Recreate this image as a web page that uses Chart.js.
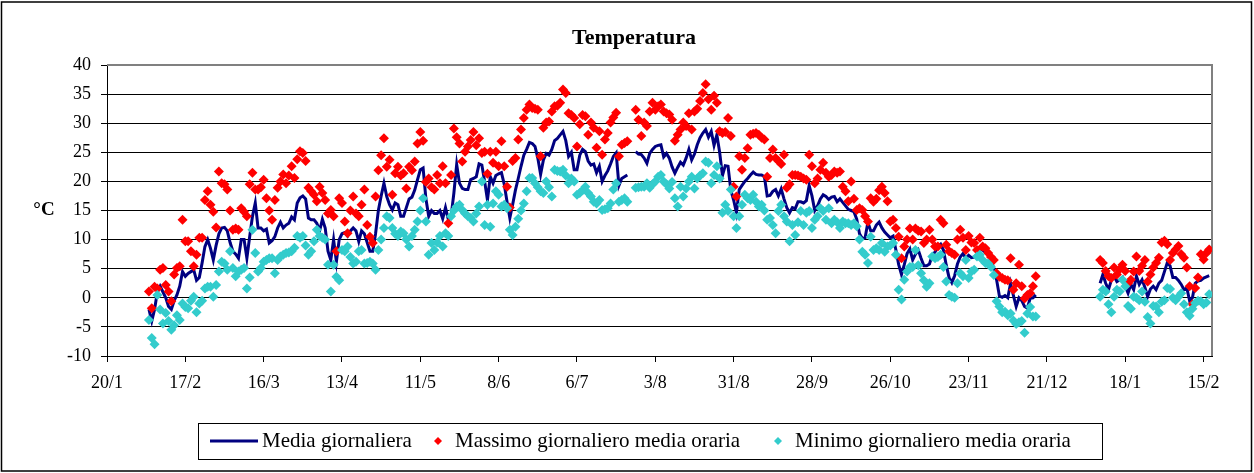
<!DOCTYPE html>
<html lang="it">
<head>
<meta charset="utf-8">
<title>Temperatura</title>
<script src="https://cdn.jsdelivr.net/npm/chart.js@4/dist/chart.umd.min.js"></script>
<style>
  body { margin: 0; background: #fff; }
  canvas { display: block; }
</style>
</head>
<body>
<canvas id="grafico" width="1254" height="473"></canvas>
<script>
// giorni contati dal 20/1; la prima misura è del giorno 15 (4/2)
const primoGiorno = 15;
const etichetteTick = ['20/1', '17/2', '16/3', '13/4', '11/5', '8/6', '6/7', '3/8', '31/8', '28/9', '26/10', '23/11', '21/12', '18/1', '15/2'];
const passoTick = 28;

const mediaGiornaliera = [
  -2, -4, -2, 1, 2, 1, 0, -1.5, -2, -0.5,
  0.5, 2, 4.5, 3.7, 4.2, 4.5, 4.8, 3, 3.5, 6,
  8.8, 10, 8.5, 6.5, 9, 11, 12, 12.1, 11.5, 9.5,
  8, 7.5, 6.8, 10, 10, 6.8, 10.5, 14, 16.3, 12,
  12, 11.5, 11.8, 9.4, 9.8, 10.5, 12, 13, 12, 12.5,
  12.8, 13.9, 13.4, 16.3, 17.2, 17.5, 17, 13.7, 13.4, 13.4,
  12.8, 11.5, 13.5, 12, 8, 6.5, 10, 6.2, 10, 11,
  11.2, 10.6, 11.5, 12, 11.5, 9.7, 11.5, 11, 9.5, 8,
  8, 11, 15, 17.5, 19.7, 17.4, 16, 15.1, 16.3, 16,
  14, 14, 15.5, 17, 17.3, 18.5, 20.3, 22, 22.3, 17,
  14, 15, 14.5, 14.5, 15, 13.6, 15.5, 13.5, 14, 18,
  22.9, 19.7, 18.8, 18.6, 18.6, 20.3, 20.5, 20.8, 23, 22.8,
  20, 16.8, 20.8, 19.7, 21, 21.3, 21.5, 19.5, 16.5, 13.7,
  16, 18.5, 20.5, 22.6, 24.5, 25.5, 26.7, 26.5, 26, 24,
  21.2, 23.7, 24.8, 24.5, 25.5, 27, 27.4, 28, 28.6, 27,
  24.3, 25, 22, 22, 24.5, 25.5, 25.1, 23.5, 22.8, 23,
  21.5, 22.6, 20, 21, 21.8, 23, 24.3, 24.9, 19.3, 20.5,
  20.8, 21.1, null, null, 25.1, 24.7, 24.6, 24, 23.1, 24.8,
  25.5, 26, 26.2, 26.3, 24.2, 24.8, 24, 22.5, 21.4, 22.4,
  23.3, 22.8, 24, 25.5, 23.7, 24.7, 26.3, 27.5, 28.3, 28.9,
  27.6, 28.6, 26.2, 28, 25, 21, 22.7, 22.6, 18.5, 16.8,
  14.6, 18.6, 19.3, 20, 20.5, 21.1, 21.6, 21.2, 21.1, 21.1,
  20.8, 17.5, 17.6, 18.3, 18.6, 17.5, 18.7, 17, 15.5, 14.6,
  15.5, 15.3, 16.5, 16.5, 16.3, 16.7, 19.3, 17.5, 15, 15.8,
  17, 17.7, 17.4, 16.9, 17.3, 17.4, 16.5, 17, 16.4, 15.8,
  15.2, 15, 14.8, 13.5, 11, 10.2, 10.3, 13, 11.5, 11.5,
  12.5, 13, 12, 11.3, 10.8, 10.3, 10.6, 8.2, 5.7, 4,
  5.7, 7.6, 8.4, 6.5, 7.5, 8.2, 6.8, 5.5, 5.5, 5.8,
  7.3, 7.9, 8.8, 9.2, 8.2, 5.6, 3.5, 2.6, 3.8, 5.8,
  7, 7.6, 6.8, 7.3, 6.9, 7, 7.4, 8.4, 8.2, 7.8,
  7.5, 6.5, 5, 3.1, 0.3, 0.1, 0.4, 0, 2.5, 0.4,
  -1.5, 0, -0.5, -1.5, -1.8, -0.1, 0, 0.5, null, null,
  null, null, null, null, null, null, null, null, null, null,
  null, null, null, null, null, null, null, null, null, null,
  2.5, 4, 2.5, 1.4, 3, 3.7, 2.8, 3.1, 3.5, 2,
  0.8, 2.3, 1.4, 3.7, 2.3, 3.1, 1.8, 0.2, 1.5, 2,
  1.4, 2.5, 3, 4.5, 6, 5.5, 3.5, 3.5, 3, 2.3,
  1.4, 1.7, -0.5, 0, 2.5, 2.9, 3, 3.4, 3.6, 3.8
];

const massimoGiornaliero = [
  1.1, -1.8, 1.9, 1.6, 4.8, 5.1, 2.2, 1.1, -0.6, 4,
  5.1, 5.4, 13.4, 9.7, 9.7, 8, 5.4, 7.4, 10.3, 10.3,
  16.8, 18.3, 16, 14.8, 12.1, 21.7, 19.7, 19.5, 18.6, 15,
  11.7, 11.9, 11.7, 15.4, 14.8, 14, 19.5, 21.5, 18.6, 18.6,
  19, 20.3, 17.1, 15, 13.4, 16.8, 18.9, 20, 21.2, 19.7,
  21, 22.6, 20.6, 23.8, 25.2, 24.9, 23.5, 18.9, 18.3, 17.7,
  16.6, 19.1, 18, 16.8, 14.5, 15.1, 14, 8, 17.1, 16.3,
  13.1, 11.1, 15, 17.4, 14.5, 14, 16, 18.6, 12.5, 10.5,
  9.4, 17.4, 21.9, 24.5, 27.4, 22.5, 23.7, 17.7, 21.4, 22.5,
  21, 21.4, 18.8, 22.5, 21.9, 23.4, 26.5, 28.5, 27, 19.9,
  20.5, 19, 18.6, 21.1, 19.7, 22.6, 19.7, 12.8, 21.1, 29.1,
  27.6, 26.5, 23.4, 25.1, 26, 27.1, 28.5, 26.2, 27.4, 24.9,
  25.1, 21.3, 25.1, 23.2, 25.1, 22.6, 26.9, 22.6, 19.1, 15.5,
  23.5, 24, 27.2, 28.9, 30.9, 32.3, 33.2, 32.6, 32.5, 32.3,
  24.3, 29.2, 30.1, 30.3, 32, 32.9, 33, 33.5, 35.8, 35.2,
  31.7, 31.4, 30.9, 26, 29.8, 31.4, 31.2, 28, 30.1, 29.2,
  25.8, 28.6, 24.6, 27.2, 28.3, 30.1, 31, 31.8, 24.3, 26.3,
  26.6, 26.9, null, null, 32.3, 30.6, 27.8, 30.1, 29.5, 32,
  33.5, 32.3, 32.9, 33.2, 32, 31.7, 31.5, 30.6, 27, 28,
  28.9, 30.1, 29.5, 31.7, 28.9, 32, 32.5, 33.8, 35.2, 36.7,
  34.1, 32.3, 34.7, 33.5, 28.6, 28.3, 28.5, 30.9, 27.8, 19.1,
  17.4, 24.3, 22, 24, 25.7, 28, 28.2, 28.3, 28, 27.5,
  27.2, 20.8, 24, 25.5, 24, 23.5, 23, 24.6, 18.9, 19.5,
  21.1, 21.1, 21, 20.8, 20.5, 20.3, 24.6, 22.6, 19.7, 20.5,
  22, 23.2, 21.5, 20.8, 21.1, 21.7, 21.5, 21.7, 19.1, 18.3,
  16.6, 20, 17, 15.1, 15.4, 15.1, 14, 13.1, 17.1, 16.5,
  17, 18.5, 19.1, 18, 16.6, 13.1, 13.4, 12, 10.5, 6.8,
  8.8, 10, 11.9, 10, 11.9, 11.5, 11.4, 9.4, 10, 11.7,
  10, 8.8, 8.8, 13.4, 12.8, 9.1, 8, 7.7, 7.4, 10,
  11.7, 10.3, 8.2, 10.6, 9.5, 9.4, 8.2, 10.3, 8.8, 8.5,
  7.7, 7, 6.5, 4.2, 3.6, 3.4, 3.1, 3, 6.8, 1.4,
  2.5, 5.7, 2, -0.1, 0.5, 0.8, 2, 3.7, null, null,
  null, null, null, null, null, null, null, null, null, null,
  null, null, null, null, null, null, null, null, null, null,
  6.5, 6, 4.6, 3.7, 3.4, 5.2, 4, 4.9, 5.7, 4.6,
  2.5, 3.1, 4.5, 7.1, 4.6, 5.5, 6.5, 2.8, 4, 5.2,
  6, 6.9, 9.5, 9.8, 9.2, 6.5, 7.7, 8.3, 8.9, 7.5,
  6.9, 5.2, 2, -1.1, 1.7, 3.5, 7.5, 6.6, 7.7, 8.3
];

const minimoGiornaliero = [
  -3.8, -6.9, -8, 0.5, -2, -4.4, -2.6, -4, -5.5, -4.7,
  -3, -3.8, -1, -1.6, -1.8, -0.5, 0.2, -2.5, -1, -0.5,
  1.6, 1.9, 1.9, 0.2, 2.2, 4.5, 6.2, 5.9, 4.8, 8,
  5.1, 3.7, 4.5, 4.8, 5.1, 1.6, 3.5, 11.7, 7.7, 4.5,
  5.1, 6.2, 6.5, 6.8, 6.8, 4.2, 6.5, 7.1, 7.4, 7.7,
  7.8, 8, 8.6, 10.6, 10.3, 10.6, 9, 7.4, 8, 9.7,
  11.7, 10.6, 10.3, 10, 5.7, 1.1, 5.7, 3.6, 3, 8.2,
  8, 8.8, 7, 5.9, 6.2, 8, 8.2, 5.9, 6, 6.2,
  5.9, 4.8, 8.2, 10, 12, 14, 13.7, 12, 11, 10.6,
  11.4, 11.1, 10, 8.8, 10.6, 11.7, 13.1, 15, 17.1, 13.1,
  7.4, 9.4, 8.2, 9.5, 10.6, 8.8, 11.1, 10.6, 14, 15,
  15.7, 16, 15.1, 14.5, 14, 13.7, 13.1, 14.5, 15.7, 20,
  12.5, 16, 12.2, 16.2, 18.3, 17.7, 15.7, 16, 15.4, 11.7,
  10.8, 12.2, 13.6, 15, 16.2, 18.3, 20.6, 20.6, 19.7, 19,
  18.3, 18, 20, 19, 17.4, 22, 21.8, 21.7, 22, 21,
  19.7, 20.5, 20, 17.7, 18, 18.5, 19.1, 18, 17.4, 16.5,
  16.2, 16.8, 15.1, 15.2, 15.4, 16.2, 18.6, 19.7, 16.5, 16.8,
  17.1, 16.5, null, null, 18.9, 19, 19.1, 19.1, 19.7, 18.9,
  19.5, 20, 20.8, 21.1, 20, 19.5, 18.8, 19.9, 17.1, 15.7,
  19.1, 17.4, 18.8, 20, 20.8, 18.8, 20.5, 21, 21.4, 23.4,
  23.2, 19.7, 21.1, 22.6, 20.5, 14.6, 16, 14.9, 18.6, 14,
  12, 14, 16, 17.7, 17.1, 16.8, 17.7, 16.5, 15.7, 16,
  15, 13.4, 13.7, 12.5, 11.1, 14.9, 16, 14, 13.1, 9.7,
  12.5, 10.8, 13, 14.9, 12.5, 14.6, 14.9, 12, 13.4, 14,
  15.4, 14.9, 13.4, 15.4, 12.8, 13.4, 13, 12, 13.1, 12.8,
  12.8, 12.5, 12.8, 12.3, 10, 7.9, 7.4, 6, 10.5, 8.2,
  8.5, 8.2, 9.4, 7.9, 8.8, 9, 9.4, 7.4, 1.4, -0.3,
  3.1, 4.5, 5.3, 5.3, 8.2, 5.6, 4.2, 3, 1.9, 2.5,
  7.1, 6.8, 7, 7.4, 5.3, 2.8, 0.5, 0.2, 0, 2.5,
  4.2, 3.7, 6.5, 3.4, 4.5, 4.8, 7.1, 7.4, 6.5, 6,
  5.9, 5.3, 3.9, -0.6, -1.5, -2.5, -2.4, -3, -2.7, -3.9,
  -4.5, -4.2, -4, -6, -2.7, -1.6, -3.2, -3.2, null, null,
  null, null, null, null, null, null, null, null, null, null,
  null, null, null, null, null, null, null, null, null, null,
  0.2, 1.4, 1.1, -1.1, -2.5, 0.2, 1.4, 1.1, 3.1, 2,
  -1.4, -1.9, 0.2, 0, -0.4, 1.1, -0.7, -3.3, -4.4, -1.4,
  -1.5, -2.5, -0.7, -0.4, 1.7, 1.5, 0, -0.4, 0.2, 0.8,
  -1.1, -2.5, -3.1, -1.9, -0.9, -0.5, -0.6, -1.1, -0.8, 0.6
];

const BLU = '#000080';
const ROSSO = '#FF0000';
const CIANO = '#33CCCC';
const FONT = 'Liberation Serif, Times New Roman, serif';

function punti(serie) {
  return serie.map((v, i) => ({ x: primoGiorno + i, y: v }));
}

function diamante(ctx, x, y, r, colore) {
  ctx.fillStyle = colore;
  ctx.beginPath();
  ctx.moveTo(x, y - r);
  ctx.lineTo(x + r, y);
  ctx.lineTo(x, y + r);
  ctx.lineTo(x - r, y);
  ctx.closePath();
  ctx.fill();
}

// sfondo, cornice, titolo, unità e legenda in riquadro
const cornice = {
  id: 'cornice',
  beforeDraw(chart) {
    const ctx = chart.ctx;
    ctx.save();
    ctx.fillStyle = '#fff';
    ctx.fillRect(0, 0, chart.width, chart.height);
    ctx.restore();
  },
  beforeDatasetsDraw(chart) {
    const { ctx, chartArea: a } = chart;
    ctx.save();
    ctx.strokeStyle = '#808080';
    ctx.lineWidth = 2;
    ctx.beginPath();
    ctx.moveTo(a.left, a.top);
    ctx.lineTo(a.right, a.top);
    ctx.lineTo(a.right, a.bottom);
    ctx.stroke();
    ctx.restore();
  },
  afterDraw(chart) {
    const { ctx, chartArea: a } = chart;
    ctx.save();

    ctx.fillStyle = '#000';
    ctx.textBaseline = 'middle';
    ctx.textAlign = 'center';
    ctx.font = 'bold 22px ' + FONT;
    ctx.fillText('Temperatura', 634, 38);

    ctx.font = 'bold 19px ' + FONT;
    ctx.fillText('°C', 44, (a.top + a.bottom) / 2);

    // legenda
    ctx.strokeStyle = '#000';
    ctx.lineWidth = 1;
    ctx.strokeRect(198.5, 423.5, 904, 36);
    const yl = 441;
    ctx.strokeStyle = BLU;
    ctx.lineWidth = 3;
    ctx.beginPath();
    ctx.moveTo(210, yl);
    ctx.lineTo(258, yl);
    ctx.stroke();
    diamante(ctx, 438, yl, 4, ROSSO);
    diamante(ctx, 778, yl, 4, CIANO);
    ctx.fillStyle = '#000';
    ctx.textAlign = 'left';
    ctx.font = '21px ' + FONT;
    ctx.fillText('Media giornaliera', 262, yl);
    ctx.fillText('Massimo giornaliero media oraria', 455, yl);
    ctx.fillText('Minimo giornaliero media oraria', 795, yl);

    // bordo esterno
    ctx.strokeStyle = '#000';
    ctx.lineWidth = 1.5;
    ctx.strokeRect(1.5, 2, chart.width - 4, chart.height - 4);
    ctx.restore();
  }
};

new Chart(document.getElementById('grafico'), {
  type: 'line',
  data: {
    datasets: [
      {
        label: 'Media giornaliera',
        data: punti(mediaGiornaliera),
        borderColor: BLU,
        backgroundColor: BLU,
        borderWidth: 3,
        pointRadius: 0,
        tension: 0,
        spanGaps: false,
        order: 2
      },
      {
        label: 'Massimo giornaliero media oraria',
        data: punti(massimoGiornaliero),
        showLine: false,
        pointStyle: 'rectRot',
        pointRadius: 5,
        pointBorderWidth: 0,
        pointBackgroundColor: ROSSO,
        borderColor: ROSSO,
        backgroundColor: ROSSO,
        order: 1
      },
      {
        label: 'Minimo giornaliero media oraria',
        data: punti(minimoGiornaliero),
        showLine: false,
        pointStyle: 'rectRot',
        pointRadius: 5,
        pointBorderWidth: 0,
        pointBackgroundColor: CIANO,
        borderColor: CIANO,
        backgroundColor: CIANO,
        order: 0
      }
    ]
  },
  options: {
    responsive: false,
    animation: false,
    events: [],
    layout: { padding: { top: 65, right: 42, bottom: 77, left: 0 } },
    plugins: {
      legend: { display: false },
      title: { display: false },
      tooltip: { enabled: false }
    },
    scales: {
      x: {
        type: 'linear',
        min: 0,
        max: 395,
        afterBuildTicks: s => { s.ticks = etichetteTick.map((t, i) => ({ value: i * passoTick })); },
        afterFit: s => { s.height = 40; },
        ticks: {
          callback: (v, i) => etichetteTick[i],
          color: '#000',
          font: { family: FONT, size: 18 },
          padding: 10,
          maxRotation: 0,
          autoSkip: false
        },
        grid: { drawOnChartArea: false, tickLength: 6, color: '#000' },
        border: { color: '#000', width: 1 }
      },
      y: {
        min: -10,
        max: 40,
        afterFit: s => { s.width = 107; },
        ticks: {
          stepSize: 5,
          color: '#000',
          font: { family: FONT, size: 18 },
          padding: 10
        },
        grid: { color: '#000', tickLength: 6 },
        border: { color: '#000', width: 1 }
      }
    }
  },
  plugins: [cornice]
});
</script>
</body>
</html>
